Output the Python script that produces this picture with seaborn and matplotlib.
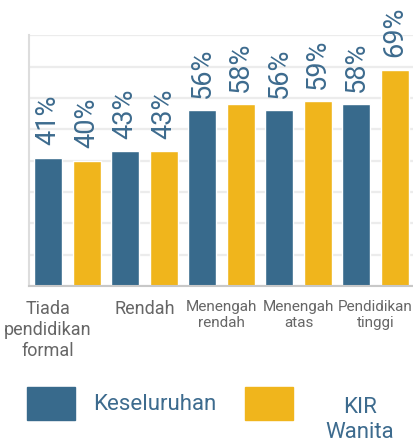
import matplotlib
matplotlib.use("Agg")
import matplotlib.pyplot as plt
import matplotlib.transforms as mtransforms
from matplotlib.patches import Rectangle
import pandas as pd
import seaborn as sns

# data
categories = ["Tiada\npendidikan\nformal", "Rendah", "Menengah\nrendah",
              "Menengah\natas", "Pendidikan\ntinggi"]
series = ["Keseluruhan", "KIR\nWanita"]
keseluruhan = [41, 43, 56, 56, 58]
kir_wanita = [40, 43, 58, 59, 69]
colors = ["#386A8C", "#F0B51C"]
text_blue = "#3D6B8E"

df = pd.DataFrame({
    "kategori": categories * 2,
    "siri": [series[0]] * 5 + [series[1]] * 5,
    "nilai": keseluruhan + kir_wanita,
})

sns.set_style("white")
plt.rcParams["font.family"] = ["Roboto", "DejaVu Sans"]

fig = plt.figure(figsize=(4.14, 4.45), dpi=100)
ax = fig.add_axes([0.070, 0.357, 0.930, 0.564])

sns.barplot(data=df, x="kategori", y="nilai", hue="siri", palette=colors,
            width=1.0, gap=0.27, saturation=1, legend=False, ax=ax)

for cont in ax.containers:
    ax.bar_label(cont, fmt="{:.0f}%", rotation=90, padding=9, fontsize=19.5,
                 color=text_blue, clip_on=False)

ax.set_xlim(-0.5, 4.5)
ax.set_ylim(0, 80)
ax.set_yticks(range(0, 81, 10))
ax.set_yticklabels([])
ax.tick_params(axis="y", length=0)
ax.tick_params(axis="x", length=0, pad=10)
ax.grid(axis="y", color="#ececec", lw=1.6)
ax.set_axisbelow(True)
ax.set_xlabel("")
ax.set_ylabel("")

for s in ["top", "right"]:
    ax.spines[s].set_visible(False)
ax.spines["left"].set_color("#dddddd")
ax.spines["left"].set_linewidth(1.5)
ax.spines["bottom"].set_color("#c8c8c8")
ax.spines["bottom"].set_linewidth(1.5)

sizes = [13, 13, 11, 11, 11]
for lab, fs in zip(ax.get_xticklabels(), sizes):
    lab.set_fontsize(fs)
    lab.set_color("#666666")
    lab.set_linespacing(1.2)
# first label sits under the first bar, not the group center
first = ax.get_xticklabels()[0]
first.set_transform(first.get_transform() +
                    mtransforms.ScaledTranslation(-0.195, 0, fig.dpi_scale_trans))

# legend
W, H = 414, 445
fig.patches.append(Rectangle((27 / W, 1 - 420 / H), 48 / W, 33 / H,
                             transform=fig.transFigure, color=colors[0]))
fig.patches.append(Rectangle((245 / W, 1 - 420 / H), 48 / W, 33 / H,
                             transform=fig.transFigure, color=colors[1]))
fig.text(93 / W, 1 - 405 / H, series[0], fontsize=16, color=text_blue,
         ha="left", va="center")
fig.text(360 / W, 1 - 420 / H, series[1], fontsize=16, color=text_blue,
         ha="center", va="center", multialignment="center",
         linespacing=1.25)

fig.savefig("out.png", dpi=100)
